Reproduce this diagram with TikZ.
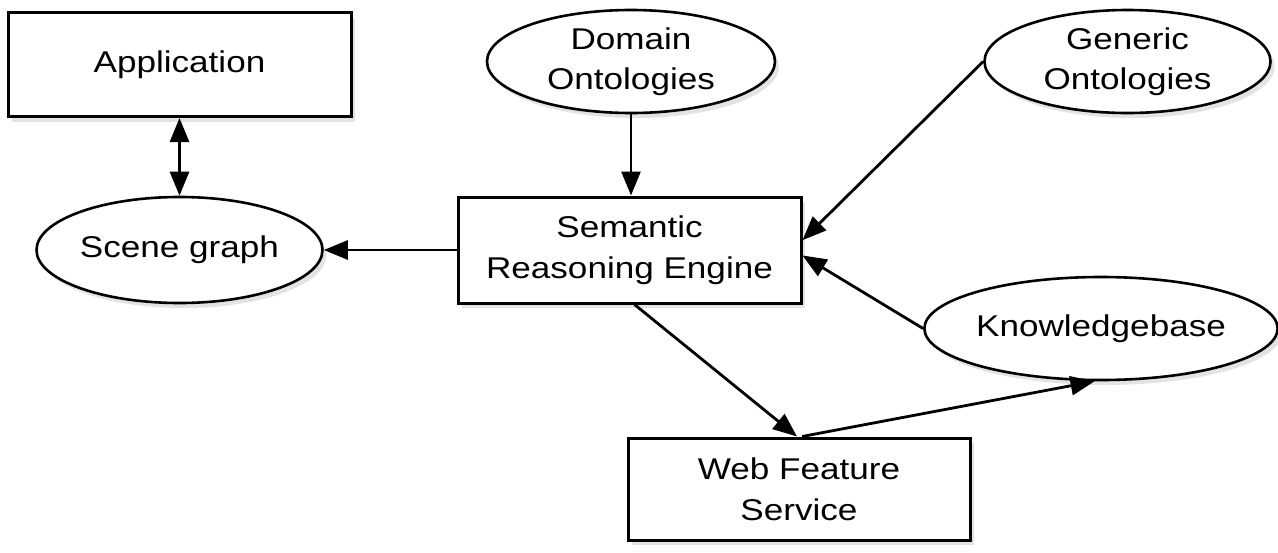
\documentclass[tikz,border=0pt]{standalone}
\usepackage{fontspec}
\setmainfont[FakeStretch=1.17]{Liberation Sans}
\usetikzlibrary{shapes.geometric,shadows,arrows.meta,calc}
\begin{document}
\begin{tikzpicture}[x=1pt,y=-1pt,
  shd/.style={drop shadow={shadow xshift=4pt,shadow yshift=-5pt,fill=black!22}},
  boxnode/.style={draw,line width=3pt,fill=white,shd,inner sep=0pt,align=center,font=\fontsize{30}{41}\selectfont},
  ellnode/.style={draw,ellipse,line width=2.6pt,fill=white,shd,inner sep=0pt,align=center,font=\fontsize{30}{40}\selectfont},
  conn/.style={line width=2.8pt,-{Triangle[length=24pt,width=19pt]}},
  dconn/.style={line width=2.8pt,{Triangle[length=24pt,width=19pt]}-{Triangle[length=24pt,width=19pt]}}]
\useasboundingbox (0,0) rectangle (1278,552);
\node[boxnode,minimum width=343pt,minimum height=104pt] (app) at (179.5,64.5) {Application};
\node[ellnode,minimum width=286pt,minimum height=106pt] (sg) at (179.5,250) {Scene graph};
\node[boxnode,minimum width=343pt,minimum height=106pt] (sre) at (629.5,250) {Semantic\\Reasoning Engine};
\node[ellnode,minimum width=288pt,minimum height=103pt] (dom) at (631,61.5) {Domain\\Ontologies};
\node[ellnode,minimum width=286pt,minimum height=103pt] (gen) at (1127.5,61.5) {Generic\\Ontologies};
\node[ellnode,minimum width=346pt,minimum height=103pt] (kb) at (1101,328.5) {Knowledgebase};
\node[boxnode,minimum width=342pt,minimum height=102pt] (wfs) at (799,489) {Web Feature\\Service};
\draw[dconn] (app.south) -- (sg.north);
\draw[conn] (sre.west) -- (sg.east);
\draw[conn] (dom.south) -- (dom.south |- sre.north);
\draw[conn] (gen.west) -- ($(sre.north east)!0.41!(sre.south east)$);
\draw[conn] (kb.west) -- ($(sre.north east)!0.55!(sre.south east)$);
\draw[conn] ($(sre.south)+(5,0)$) -- ($(wfs.north)+(-2,0)$);
\draw[conn] ($(wfs.north)+(3,0)$) -- (kb.-97);
\end{tikzpicture}
\end{document}
